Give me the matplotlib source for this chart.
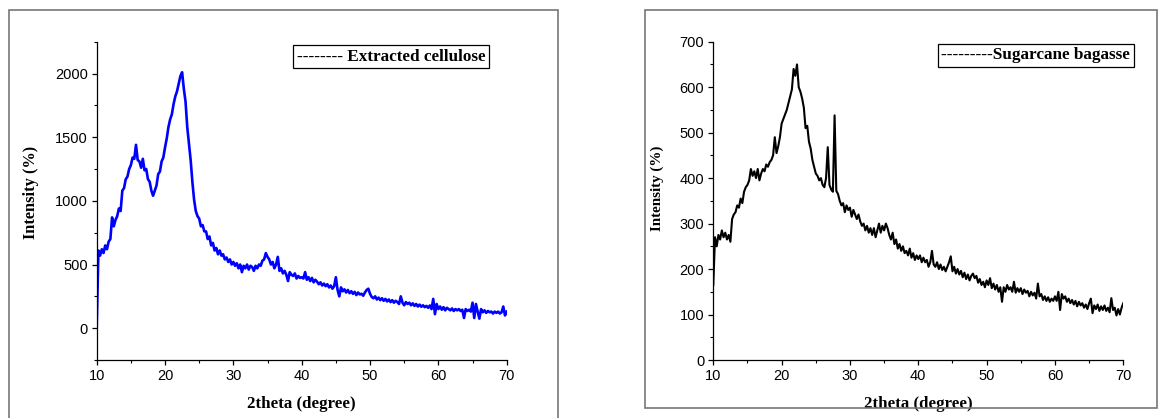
import numpy as np
import matplotlib
matplotlib.use("Agg")
import matplotlib.pyplot as plt
from matplotlib.lines import Line2D
from matplotlib.patches import Rectangle
from matplotlib.ticker import MultipleLocator

# 2theta grid (degrees), 0.25 deg steps from 10 to 70
two_theta = np.arange(10.0, 70.001, 0.25)

# Extracted cellulose intensity
cellulose = [
    0, 610, 570, 620, 590, 650, 620, 680, 700, 870, 800, 850, 880, 940, 920, 1080, 1100, 1170, 1190, 1250,
    1280, 1340, 1330, 1440, 1320, 1310, 1260, 1330, 1240, 1250, 1170, 1150, 1080, 1040, 1080, 1120, 1210, 1230, 1310, 1340,
    1420, 1490, 1580, 1640, 1680, 1760, 1820, 1860, 1920, 1980, 2010, 1880, 1780, 1580, 1450, 1320, 1150, 1010, 920, 880,
    860, 800, 810, 760, 760, 700, 720, 650, 670, 610, 630, 580, 610, 570, 580, 540, 555, 520, 540, 500,
    520, 490, 510, 470, 500, 440, 490, 470, 500, 460, 490, 480, 450, 490, 470, 500, 490, 530, 540, 590,
    560, 540, 500, 520, 470, 500, 560, 450, 470, 430, 450, 420, 370, 440, 420, 410, 430, 390, 410, 395,
    400, 390, 440, 380, 400, 370, 395, 360, 380, 365, 345, 360, 335, 350, 330, 345, 320, 335, 310, 330,
    400, 300, 250, 320, 290, 305, 280, 300, 275, 290, 270, 285, 260, 280, 265, 270, 255, 280, 300, 310,
    270, 245, 235, 250, 225, 240, 220, 235, 215, 230, 210, 225, 205, 220, 200, 215, 205, 190, 250, 200,
    180, 205, 190, 200, 180, 195, 175, 190, 170, 185, 168, 180, 165, 175, 160, 178, 150, 230, 110, 190,
    150, 170, 145, 165, 140, 160, 150, 140, 155, 135, 150, 140, 150, 135, 145, 80, 150, 135, 145, 130,
    200, 80, 190, 130, 75, 150, 125, 140, 120, 135, 125, 130, 115, 130, 120, 130, 115, 125, 170, 100,
    130,
]

# Sugarcane bagasse intensity
bagasse = [
    165, 270, 250, 275, 265, 285, 270, 280, 265, 275, 260, 310, 320, 325, 340, 335, 355, 345, 370, 380,
    385, 395, 420, 405, 415, 400, 420, 395, 410, 420, 415, 430, 425, 435, 440, 450, 490, 455, 470, 490,
    520, 530, 540, 550, 565, 580, 595, 640, 625, 650, 600, 590, 575, 555, 510, 515, 480, 465, 440, 425,
    410, 405, 395, 400, 385, 380, 400, 468, 385, 375, 370, 538, 372, 365, 350, 340, 345, 325, 340, 330,
    335, 315, 330, 320, 310, 320, 305, 295, 300, 285, 295, 280, 290, 275, 290, 270, 285, 300, 280, 295,
    285, 300, 290, 275, 265, 280, 255, 265, 245, 255, 240, 250, 235, 240, 230, 245, 225, 235, 220, 230,
    222, 230, 215, 225, 215, 220, 205, 215, 240, 210, 205, 215, 200, 210, 198, 205, 195, 205, 215, 228,
    195, 205, 190, 200, 188, 196, 182, 192, 178, 188, 175, 185, 190, 180, 185, 170, 178, 165, 172, 160,
    175, 165, 180, 158, 168, 155, 165, 150, 160, 128, 160, 150, 165, 155, 160, 150, 172, 148, 158, 150,
    158, 145, 155, 148, 152, 140, 150, 142, 148, 135, 168, 140, 145, 132, 140, 130, 138, 128, 135, 130,
    140, 130, 150, 110, 145, 135, 140, 128, 135, 125, 132, 122, 130, 118, 128, 120, 125, 115, 122, 112,
    125, 135, 103, 120, 112, 122, 108, 118, 110, 120, 108, 115, 105, 136, 110, 115, 98, 112, 100, 115,
    125,
]

x_ticks = [10, 20, 30, 40, 50, 60, 70]
left_yticks = [0, 500, 1000, 1500, 2000]
right_yticks = [0, 100, 200, 300, 400, 500, 600, 700]
x_label = "2theta (degree)"
y_label = "Intensity (%)"
left_legend = "-------- Extracted cellulose"
right_legend = "---------Sugarcane bagasse"

W, H = 1161, 418
fig = plt.figure(figsize=(W / 100, H / 100), dpi=100)

tick_family = ["Liberation Sans", "DejaVu Sans"]
tick_size = 10.5
serif = ["Liberation Serif", "DejaVu Serif"]

# panel frames
fig.patches.append(Rectangle((9 / W, -0.1), 549 / W, 1.1 - 10 / H, transform=fig.transFigure,
                             fill=False, edgecolor="#777777", linewidth=1.2, zorder=0))
fig.patches.append(Rectangle((645 / W, 1 - 408 / H), 512 / W, 398 / H, transform=fig.transFigure,
                             fill=False, edgecolor="#777777", linewidth=1.2, zorder=0))

ax_w = 410 / W
ax_b = 1 - 360 / H
ax_h = 318.3 / H
ax1 = fig.add_axes([96.7 / W, ax_b, ax_w, ax_h])
ax2 = fig.add_axes([713.3 / W, ax_b, ax_w, ax_h])

ax1.plot(two_theta, cellulose, color="#0000FF", linewidth=1.9)
ax2.plot(two_theta, bagasse, color="black", linewidth=1.5)

ax1.set_ylim(-250, 2250)
ax2.set_ylim(0, 700)
for ax, yt, ym in ((ax1, left_yticks, 250), (ax2, right_yticks, 50)):
    ax.set_xlim(10, 70)
    ax.set_xticks(x_ticks)
    ax.set_yticks(yt)
    ax.xaxis.set_minor_locator(MultipleLocator(5))
    ax.yaxis.set_minor_locator(MultipleLocator(ym))
    for s in ("top", "right"):
        ax.spines[s].set_visible(False)
    for s in ("left", "bottom"):
        ax.spines[s].set_linewidth(0.9)
    ax.tick_params(which="major", direction="out", length=3.5, width=0.9, pad=3)
    ax.tick_params(which="minor", direction="out", length=2.5, width=0.8)
    for lab in ax.get_xticklabels() + ax.get_yticklabels():
        lab.set_fontfamily(tick_family)
        lab.set_fontsize(tick_size)
    ax.set_xlabel(x_label, fontfamily=serif, fontweight="bold", fontsize=12.2)
    ax.xaxis.set_label_coords(0.5, -0.113)

ax1.set_ylabel(y_label, fontfamily=serif, fontweight="bold", fontsize=11.8)
ax1.yaxis.set_label_coords(-0.14, 0.528)
ax2.set_ylabel(y_label, fontfamily=serif, fontweight="bold", fontsize=10.8)
ax2.yaxis.set_label_coords(-0.12, 0.54)

for ax, label, anchor in ((ax1, left_legend, (0.957, 0.99)), (ax2, right_legend, (1.026, 0.994))):
    h = Line2D([], [], color="none")
    leg = ax.legend([h], [label], loc="upper right", bbox_to_anchor=anchor, borderaxespad=0,
                    handlelength=0, handletextpad=0, borderpad=0.22, fancybox=False,
                    framealpha=1, edgecolor="black",
                    prop={"family": serif, "weight": "bold", "size": 12.3})
    leg.get_frame().set_linewidth(0.9)

fig.savefig("out.png", dpi=100)
